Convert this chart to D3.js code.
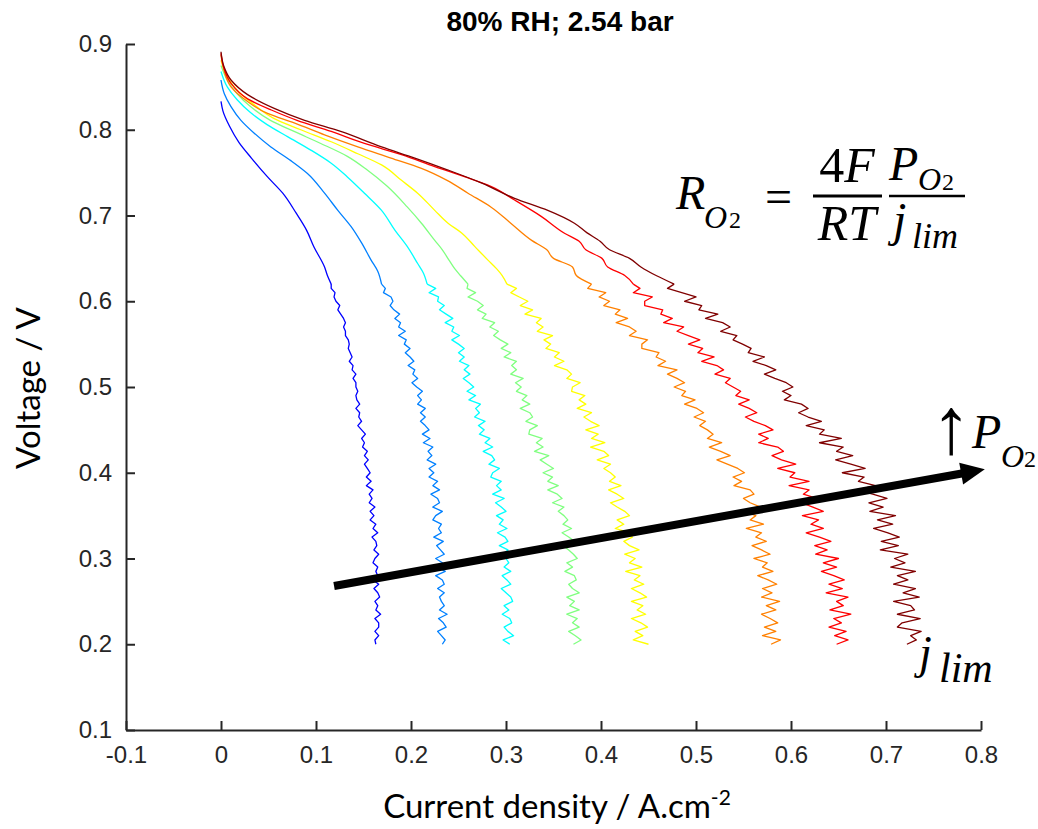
<!doctype html>
<html lang="en">
<head>
<meta charset="UTF-8">
<title>80% RH; 2.54 bar</title>
<script src="https://d3js.org/d3.v7.min.js"></script>
<style>
body { margin: 0; background: #fff; }
svg { display: block; }
.axis path, .axis line { stroke: #262626; stroke-width: 2; }
.axis text { font-family: "Liberation Sans", Arial, sans-serif; font-size: 24px; fill: #262626; }
.curve { fill: none; stroke-width: 1.3; stroke-linejoin: round; }
.math { font-family: "Liberation Serif", serif; font-style: italic; fill: #000; }
</style>
</head>
<body>
<div id="plot"></div>
<script>

var width = 1038;
var height = 829;

// tick labels
var xTicks = [-0.1, 0, 0.1, 0.2, 0.3, 0.4, 0.5, 0.6, 0.7, 0.8];
var xTickLabels = ["-0.1", "0", "0.1", "0.2", "0.3", "0.4", "0.5", "0.6", "0.7", "0.8"];
var yTicks = [0.1, 0.2, 0.3, 0.4, 0.5, 0.6, 0.7, 0.8, 0.9];
var yTickLabels = ["0.1", "0.2", "0.3", "0.4", "0.5", "0.6", "0.7", "0.8", "0.9"];

// upper (smooth) part of each polarisation curve, [current density A/cm2, voltage V]
var curve1Top = [[0.000,0.833],[0.002,0.822],[0.009,0.804],[0.019,0.785],[0.032,0.767],[0.049,0.745],[0.065,0.726],[0.079,0.703],[0.090,0.683],[0.098,0.663],[0.109,0.640],[0.112,0.630]];
var curve2Top = [[0.000,0.858],[0.0035,0.842],[0.0105,0.827],[0.021,0.811],[0.035,0.796],[0.0525,0.780],[0.0735,0.764],[0.091,0.749],[0.109,0.726],[0.123,0.706],[0.137,0.687],[0.148,0.668],[0.158,0.648],[0.165,0.635]];
var curve3Top = [[0.000,0.868],[0.0066,0.850],[0.017,0.835],[0.031,0.820],[0.0485,0.806],[0.070,0.792],[0.095,0.776],[0.116,0.761],[0.133,0.745],[0.151,0.726],[0.169,0.706],[0.183,0.683],[0.196,0.664],[0.207,0.644],[0.213,0.633]];
var curve4Top = [[0.000,0.875],[0.0066,0.858],[0.017,0.842],[0.031,0.827],[0.052,0.811],[0.077,0.798],[0.105,0.784],[0.133,0.769],[0.154,0.753],[0.175,0.734],[0.196,0.710],[0.211,0.691],[0.225,0.671],[0.233,0.660],[0.240,0.648],[0.246,0.638],[0.252,0.630]];
var curve5Top = [[0.000,0.881],[0.0066,0.862],[0.017,0.846],[0.035,0.829],[0.056,0.813],[0.084,0.800],[0.116,0.786],[0.144,0.772],[0.169,0.759],[0.190,0.741],[0.207,0.726],[0.225,0.706],[0.239,0.691],[0.253,0.680],[0.267,0.664],[0.281,0.648],[0.290,0.638],[0.296,0.630]];
var curve6Top = [[0.000,0.887],[0.003,0.870],[0.0105,0.850],[0.028,0.833],[0.049,0.819],[0.077,0.808],[0.109,0.794],[0.144,0.780],[0.179,0.767],[0.211,0.755],[0.238,0.741],[0.260,0.726],[0.284,0.710],[0.305,0.691],[0.327,0.671],[0.343,0.660],[0.350,0.650],[0.370,0.640],[0.374,0.630]];
var curve7Top = [[0.000,0.889],[0.003,0.872],[0.0105,0.854],[0.028,0.836],[0.053,0.823],[0.080,0.811],[0.116,0.798],[0.151,0.784],[0.190,0.771],[0.225,0.757],[0.257,0.745],[0.284,0.734],[0.309,0.718],[0.337,0.699],[0.362,0.679],[0.377,0.670],[0.384,0.660],[0.401,0.650],[0.407,0.640],[0.425,0.630]];
var curve8Top = [[0.000,0.891],[0.003,0.874],[0.0105,0.858],[0.028,0.841],[0.056,0.825],[0.088,0.811],[0.126,0.798],[0.169,0.780],[0.204,0.767],[0.239,0.753],[0.274,0.738],[0.309,0.720],[0.344,0.706],[0.372,0.691],[0.385,0.680],[0.399,0.670],[0.409,0.660],[0.430,0.650],[0.442,0.640],[0.458,0.630]];

// lower (noisy) part: voltage samples and current density read at each of them
var vGrid = [0.620,0.615,0.610,0.605,0.600,0.595,0.590,0.585,0.580,0.575,0.570,0.565,0.560,0.555,0.550,0.545,0.540,0.535,0.530,0.525,
  0.520,0.515,0.510,0.505,0.500,0.495,0.490,0.485,0.480,0.475,0.470,0.465,0.460,0.455,0.450,0.445,0.440,0.435,0.430,0.425,
  0.420,0.415,0.410,0.405,0.400,0.395,0.390,0.385,0.380,0.375,0.370,0.365,0.360,0.355,0.350,0.345,0.340,0.335,0.330,0.325,
  0.320,0.315,0.310,0.305,0.300,0.295,0.290,0.285,0.280,0.275,0.270,0.265,0.260,0.255,0.250,0.245,0.240,0.235,0.230,0.225,
  0.220,0.215,0.210,0.205,0.200];

var curve1Low = [0.116,0.116,0.120,0.119,0.121,0.125,0.123,0.126,0.129,0.131,0.129,0.131,0.131,0.134,0.135,0.134,0.136,0.138,0.135,0.139,
  0.138,0.142,0.139,0.142,0.142,0.144,0.142,0.143,0.146,0.142,0.146,0.145,0.148,0.144,0.148,0.152,0.148,0.151,0.149,0.154,
  0.151,0.155,0.151,0.154,0.157,0.153,0.158,0.153,0.160,0.156,0.159,0.156,0.162,0.157,0.161,0.157,0.163,0.160,0.165,0.159,
  0.163,0.164,0.161,0.166,0.162,0.160,0.165,0.163,0.165,0.160,0.166,0.161,0.165,0.167,0.162,0.165,0.163,0.168,0.162,0.166,
  0.166,0.162,0.166,0.162,0.163];
var curve2Low = [0.169,0.173,0.171,0.179,0.181,0.178,0.182,0.188,0.183,0.189,0.187,0.194,0.187,0.195,0.193,0.199,0.194,0.199,0.203,0.197,
  0.204,0.202,0.207,0.201,0.206,0.212,0.207,0.211,0.207,0.215,0.210,0.215,0.210,0.215,0.219,0.212,0.220,0.213,0.223,0.218,
  0.222,0.217,0.226,0.219,0.224,0.219,0.228,0.223,0.230,0.221,0.228,0.230,0.223,0.233,0.226,0.223,0.232,0.229,0.232,0.224,
  0.234,0.227,0.231,0.235,0.226,0.233,0.228,0.236,0.226,0.233,0.235,0.228,0.235,0.230,0.232,0.235,0.230,0.238,0.229,0.234,
  0.237,0.228,0.232,0.236,0.233];
var curve3Low = [0.217,0.226,0.219,0.229,0.228,0.235,0.230,0.237,0.244,0.236,0.245,0.243,0.251,0.243,0.250,0.256,0.250,0.256,0.251,0.261,
  0.256,0.262,0.255,0.261,0.266,0.259,0.268,0.261,0.273,0.268,0.272,0.267,0.278,0.271,0.277,0.272,0.283,0.278,0.286,0.276,
  0.285,0.288,0.282,0.293,0.286,0.284,0.295,0.290,0.295,0.286,0.298,0.289,0.295,0.300,0.290,0.297,0.293,0.301,0.291,0.299,
  0.302,0.293,0.302,0.297,0.300,0.303,0.298,0.305,0.296,0.301,0.305,0.295,0.300,0.305,0.307,0.298,0.303,0.296,0.304,0.306,
  0.298,0.302,0.308,0.297,0.304];
var curve4Low = [0.260,0.259,0.268,0.260,0.270,0.276,0.270,0.279,0.275,0.288,0.283,0.292,0.287,0.294,0.302,0.295,0.305,0.298,0.311,0.306,
  0.311,0.305,0.318,0.310,0.316,0.311,0.322,0.317,0.325,0.315,0.325,0.328,0.321,0.333,0.325,0.324,0.338,0.332,0.339,0.330,
  0.345,0.336,0.343,0.350,0.339,0.349,0.344,0.355,0.344,0.354,0.359,0.349,0.361,0.355,0.361,0.365,0.360,0.369,0.359,0.366,
  0.372,0.360,0.366,0.371,0.375,0.364,0.370,0.362,0.372,0.374,0.366,0.370,0.377,0.364,0.372,0.367,0.377,0.364,0.375,0.370,
  0.377,0.366,0.373,0.379,0.371];
var curve5Low = [0.301,0.311,0.305,0.314,0.323,0.315,0.328,0.320,0.337,0.332,0.339,0.333,0.349,0.340,0.347,0.342,0.356,0.351,0.361,0.351,
  0.364,0.369,0.364,0.378,0.370,0.369,0.383,0.377,0.384,0.375,0.390,0.382,0.389,0.398,0.384,0.397,0.390,0.404,0.389,0.403,
  0.408,0.396,0.410,0.403,0.410,0.415,0.409,0.421,0.408,0.417,0.424,0.410,0.417,0.425,0.430,0.417,0.424,0.415,0.430,0.433,
  0.424,0.430,0.440,0.425,0.436,0.430,0.443,0.426,0.441,0.435,0.445,0.432,0.441,0.448,0.432,0.444,0.438,0.447,0.432,0.442,
  0.449,0.436,0.444,0.434,0.450];
var curve6Low = [0.390,0.386,0.405,0.398,0.409,0.403,0.420,0.415,0.428,0.416,0.430,0.437,0.430,0.449,0.443,0.443,0.461,0.458,0.468,0.460,
  0.480,0.470,0.480,0.488,0.477,0.489,0.485,0.499,0.488,0.501,0.508,0.498,0.510,0.504,0.512,0.518,0.512,0.527,0.514,0.526,
  0.536,0.522,0.533,0.544,0.551,0.539,0.548,0.540,0.557,0.561,0.550,0.557,0.568,0.551,0.563,0.557,0.571,0.553,0.569,0.563,
  0.574,0.559,0.569,0.578,0.561,0.575,0.570,0.581,0.565,0.576,0.585,0.570,0.580,0.569,0.588,0.574,0.584,0.569,0.578,0.586,
  0.572,0.584,0.570,0.589,0.579];
var curve7Low = [0.434,0.441,0.434,0.454,0.446,0.446,0.465,0.463,0.475,0.466,0.487,0.480,0.492,0.504,0.492,0.507,0.502,0.519,0.506,0.522,
  0.529,0.520,0.536,0.531,0.539,0.547,0.542,0.556,0.545,0.556,0.564,0.552,0.561,0.573,0.581,0.566,0.576,0.566,0.586,0.592,
  0.580,0.590,0.605,0.586,0.604,0.599,0.619,0.598,0.619,0.613,0.627,0.611,0.623,0.634,0.612,0.629,0.621,0.634,0.616,0.630,
  0.642,0.625,0.638,0.626,0.650,0.634,0.648,0.632,0.645,0.656,0.640,0.654,0.637,0.660,0.648,0.655,0.641,0.663,0.645,0.653,
  0.640,0.658,0.646,0.660,0.648];
var curve8Low = [0.477,0.470,0.485,0.500,0.488,0.506,0.503,0.523,0.510,0.528,0.536,0.526,0.543,0.539,0.549,0.558,0.555,0.572,0.560,0.574,
  0.584,0.572,0.583,0.595,0.602,0.591,0.600,0.593,0.611,0.618,0.608,0.618,0.632,0.616,0.635,0.630,0.653,0.630,0.655,0.648,
  0.665,0.647,0.663,0.678,0.654,0.677,0.671,0.689,0.669,0.686,0.701,0.682,0.697,0.683,0.710,0.691,0.707,0.687,0.702,0.714,
  0.695,0.713,0.694,0.723,0.709,0.720,0.705,0.731,0.712,0.723,0.708,0.731,0.718,0.735,0.708,0.726,0.730,0.712,0.736,0.717,
  0.712,0.737,0.726,0.732,0.722];

var curveTops = [curve1Top, curve2Top, curve3Top, curve4Top, curve5Top, curve6Top, curve7Top, curve8Top];
var curveLows = [curve1Low, curve2Low, curve3Low, curve4Low, curve5Low, curve6Low, curve7Low, curve8Low];
var curveColors = ["#0000ff", "#0080ff", "#00ffff", "#80ff80", "#ffff00", "#ff8000", "#ff0000", "#800000"];

// arrow annotation, data coordinates
var arrowFrom = [0.119, 0.268];
var arrowTo = [0.804, 0.404];

var svg = d3.select("#plot").append("svg")
  .attr("width", width)
  .attr("height", height);

var xScale = d3.scaleLinear().domain([-0.1, 0.8]).range([126, 981]);
var yScale = d3.scaleLinear().domain([0.1, 0.9]).range([730, 44]);

var xAxis = d3.axisBottom(xScale)
  .tickValues(xTicks)
  .tickFormat(function (d, i) { return xTickLabels[i]; })
  .tickSizeInner(-9).tickSizeOuter(0).tickPadding(16);

var yAxis = d3.axisLeft(yScale)
  .tickValues(yTicks)
  .tickFormat(function (d, i) { return yTickLabels[i]; })
  .tickSizeInner(-9).tickSizeOuter(0).tickPadding(14);

svg.append("g")
  .attr("class", "axis")
  .attr("transform", "translate(0," + 730 + ")")
  .call(xAxis);

svg.append("g")
  .attr("class", "axis")
  .attr("transform", "translate(" + 126 + ",0)")
  .call(yAxis);

var smoothLine = d3.line()
  .curve(d3.curveMonotoneY)
  .x(function (d) { return xScale(d[0]); })
  .y(function (d) { return yScale(d[1]); });

var rawLine = d3.line()
  .x(function (d) { return xScale(d[0]); })
  .y(function (d) { return yScale(d[1]); });

curveTops.forEach(function (top, i) {
  var low = curveLows[i].map(function (j, k) { return [j, vGrid[k]]; });
  svg.append("path")
    .attr("class", "curve")
    .attr("d", smoothLine(top.concat([low[0]])))
    .style("stroke", curveColors[i]);
  svg.append("path")
    .attr("class", "curve")
    .attr("d", rawLine(low))
    .style("stroke", curveColors[i]);
});

// title
svg.append("text")
  .attr("x", 560).attr("y", 31)
  .attr("text-anchor", "middle")
  .style("font-family", "'Liberation Sans', Arial, sans-serif")
  .style("font-weight", "bold")
  .style("font-size", "28px")
  .style("fill", "#000")
  .text("80% RH; 2.54 bar");

// axis titles
var xt = svg.append("text")
  .attr("x", 557).attr("y", 818)
  .attr("text-anchor", "middle")
  .style("font-family", "Lato, 'Open Sans', sans-serif")
  .style("font-size", "33px")
  .style("fill", "#000");
xt.append("tspan").text("Current density / A.cm");
xt.append("tspan").attr("dy", -13).style("font-size", "21px").text("-2");

svg.append("text")
  .attr("transform", "translate(40,388) rotate(-90)")
  .attr("text-anchor", "middle")
  .style("font-family", "Lato, 'Open Sans', sans-serif")
  .style("font-size", "33px")
  .style("fill", "#000")
  .text("Voltage / V");

// arrow
var ax0 = xScale(arrowFrom[0]), ay0 = yScale(arrowFrom[1]);
var ax1 = xScale(arrowTo[0]), ay1 = yScale(arrowTo[1]);
var ang = Math.atan2(ay1 - ay0, ax1 - ax0);
var headLen = 24, headHalf = 11;
var bx = ax1 - headLen * Math.cos(ang), by = ay1 - headLen * Math.sin(ang);
svg.append("line")
  .attr("x1", ax0).attr("y1", ay0)
  .attr("x2", bx + 2 * Math.cos(ang)).attr("y2", by + 2 * Math.sin(ang))
  .style("stroke", "#000").style("stroke-width", 8);
svg.append("path")
  .attr("d", "M" + ax1 + "," + ay1 +
    "L" + (bx - headHalf * Math.sin(ang)) + "," + (by + headHalf * Math.cos(ang)) +
    "L" + (bx + headHalf * Math.sin(ang)) + "," + (by - headHalf * Math.cos(ang)) + "Z")
  .style("fill", "#000");

// formula R_O2 = 4F/RT * P_O2/j_lim
function mtext(x, y, size, str, italic, anchor) {
  return svg.append("text")
    .attr("class", "math")
    .attr("x", x).attr("y", y)
    .attr("text-anchor", anchor || "start")
    .style("font-size", size + "px")
    .style("font-style", italic === false ? "normal" : "italic")
    .text(str);
}
mtext(676, 209, 48, "R");
mtext(704, 228, 32, "O");
mtext(729, 228, 24, "2", false);
mtext(765, 213, 48, "=", false);
var num1 = svg.append("text").attr("class", "math").attr("x", 847).attr("y", 182)
  .attr("text-anchor", "middle").style("font-size", "50px");
num1.append("tspan").style("font-style", "normal").text("4");
num1.append("tspan").text("F");
mtext(847, 240, 50, "RT", true, "middle");
svg.append("line").attr("x1", 813).attr("x2", 882).attr("y1", 196).attr("y2", 196)
  .style("stroke", "#000").style("stroke-width", 3);
svg.append("line").attr("x1", 889).attr("x2", 965).attr("y1", 196).attr("y2", 196)
  .style("stroke", "#000").style("stroke-width", 2.5);
mtext(889, 180, 48, "P");
mtext(918, 190, 32, "O");
mtext(942, 190, 24, "2", false);
mtext(893, 236, 48, "j");
mtext(912, 248, 36, "lim");

// ↑ P_O2 near the arrow
svg.append("text")
  .attr("x", 931).attr("y", 453)
  .style("font-family", "'Liberation Serif', serif")
  .style("font-size", "80px")
  .style("fill", "#000")
  .text("\u2191");
mtext(972, 448, 48, "P");
mtext(1001, 467, 32, "O");
mtext(1024, 467, 24, "2", false);

// j_lim label
mtext(919, 668, 46, "j");
mtext(939, 682, 42, "lim");

</script>
</body>
</html>
